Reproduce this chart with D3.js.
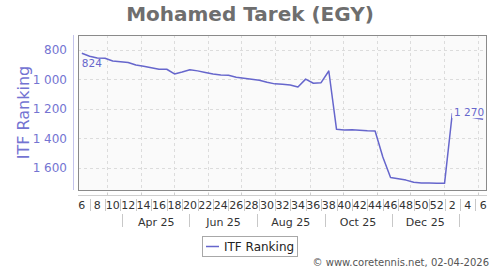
<!DOCTYPE html>
<html>
<head>
<meta charset="utf-8">
<script src="https://cdn.jsdelivr.net/npm/d3@7"></script>
<style>
  html, body { margin: 0; padding: 0; background: #fff; }
  svg { display: block; font-family: "DejaVu Sans", sans-serif; }
</style>
</head>
<body>
<svg id="chart" width="500" height="270"></svg>
<script>
// ---- Data ----
const title = "Mohamed Tarek (EGY)";
const seriesName = "ITF Ranking";
const firstWeekStart = "2025-02-03"; // ISO week 6, 2025
const firstWeekNumber = 6;
const weeksInFirstYear = 52;
// one ranking per week, week 6 2025 .. week 6 2026
const ranking = [
  824, 844, 856, 858, 876, 881, 886, 903, 911, 922,
  932, 932, 964, 951, 936, 943, 954, 964, 971, 973,
  986, 993, 1000, 1006, 1020, 1031, 1034, 1039, 1052, 999,
  1027, 1023, 944, 1339, 1343, 1342, 1345, 1349, 1350, 1526,
  1665, 1674, 1683, 1698, 1703, 1703, 1704, 1705, 1232, 1238,
  1250, 1262, 1270
];
const yTicks = [800, 1000, 1200, 1400, 1600];
const monthLabels = ["Apr 25", "Jun 25", "Aug 25", "Oct 25", "Dec 25"];
const monthLabelDates = ["2025-04-15", "2025-06-15", "2025-08-15", "2025-10-15", "2025-12-15"];
const monthSeparatorDates = ["2025-03-15", "2025-05-15", "2025-07-15", "2025-09-15", "2025-11-15", "2026-01-15"];
const credit = "\u00A9 www.coretennis.net, 02-04-2026";

// ---- Layout ----
const W = 500, H = 270;
const plot = { left: 78, top: 35, right: 487, bottom: 190 };
const lineColor = "#6666cc";
const tickColor = "#7474d2";
const plotBg = "#fafafa";

const svg = d3.select("#chart");
const parse = d3.utcParse("%Y-%m-%d");
const DAY = 86400000;
const start = parse(firstWeekStart);
const data = ranking.map((v, i) => ({
  i, v,
  date: new Date(start.getTime() + (7 * i + 3.5) * DAY),
  week: ((firstWeekNumber + i - 1) % weeksInFirstYear) + 1
}));
const domainEnd = new Date(start.getTime() + 7 * ranking.length * DAY);

const x = d3.scaleUtc().domain([start, domainEnd]).range([plot.left, plot.right]);
const y = d3.scaleLinear().domain([700, 1750]).range([plot.top, plot.bottom]);

const loc = d3.formatLocale({ decimal: ".", thousands: "\u2009", grouping: [3], currency: ["", ""] });
const fmt = loc.format(",d");
const fmtLabel = v => fmt(v).replace("\u2009", " ");

// title
svg.append("text").attr("x", 250).attr("y", 21).attr("text-anchor", "middle")
  .attr("font-size", 20).attr("font-weight", "bold").attr("fill", "#6e6e6e").text(title);

// plot background
svg.append("rect").attr("x", plot.left).attr("y", plot.top)
  .attr("width", plot.right - plot.left).attr("height", plot.bottom - plot.top)
  .attr("fill", plotBg);

// grid
const monthStarts = d3.utcMonth.range(start, domainEnd);
svg.append("g").selectAll("line").data(monthStarts).join("line")
  .attr("x1", d => Math.round(x(d)) + 0.5).attr("x2", d => Math.round(x(d)) + 0.5)
  .attr("y1", plot.top).attr("y2", plot.bottom)
  .attr("stroke", "#dcdcdc").attr("stroke-dasharray", "3,3");
svg.append("g").selectAll("line").data(yTicks).join("line")
  .attr("x1", plot.left).attr("x2", plot.right)
  .attr("y1", d => Math.round(y(d)) + 0.5).attr("y2", d => Math.round(y(d)) + 0.5)
  .attr("stroke", "#dcdcdc").attr("stroke-dasharray", "3,3");

// y axis
const yAxis = d3.axisLeft(y).tickValues(yTicks).tickSize(0).tickPadding(6).tickFormat(fmtLabel);
const gy = svg.append("g").attr("transform", `translate(${plot.left - 5},0)`).call(yAxis);
gy.select(".domain").attr("stroke", "#c4c4ec").attr("d", `M0.5,${plot.top}V${plot.bottom}`);
gy.selectAll("text").attr("fill", tickColor).attr("font-size", 12).attr("font-family", "DejaVu Sans");

svg.append("text").attr("transform", `translate(29,${(plot.top + plot.bottom) / 2}) rotate(-90)`)
  .attr("text-anchor", "middle").attr("font-size", 16).attr("fill", tickColor).text(seriesName);

// line
const line = d3.line().x(d => x(d.date)).y(d => y(d.v));
svg.append("path").datum(data).attr("d", line).attr("fill", "none")
  .attr("stroke", lineColor).attr("stroke-width", 1.5).attr("stroke-linejoin", "round");

// value labels
const first = data[0], last = data[data.length - 1];
svg.append("text").attr("x", x(first.date)).attr("y", y(first.v) + 14)
  .attr("font-size", 10.5).attr("fill", lineColor).text(fmtLabel(first.v));
const lastLbl = svg.append("g");
const lt = lastLbl.append("text").attr("x", x(last.date) + 1).attr("y", y(last.v) - 3)
  .attr("text-anchor", "end").attr("font-size", 10.5).attr("fill", lineColor).text(fmtLabel(last.v));
const bb = lt.node().getBBox();
lastLbl.insert("rect", "text").attr("x", bb.x - 2).attr("y", bb.y).attr("width", bb.width + 2)
  .attr("height", bb.height).attr("fill", plotBg);

// plot border
svg.append("rect").attr("x", plot.left + 0.5).attr("y", plot.top + 0.5)
  .attr("width", plot.right - plot.left - 1).attr("height", plot.bottom - plot.top)
  .attr("fill", "none").attr("stroke", "#8a8a8a");

// x axis
const axisY = 195.5;
svg.append("line").attr("x1", plot.left).attr("x2", plot.right).attr("y1", axisY).attr("y2", axisY)
  .attr("stroke", "#cfcfcf");
svg.append("g").selectAll("line").data(monthStarts).join("line")
  .attr("x1", d => Math.round(x(d)) + 0.5).attr("x2", d => Math.round(x(d)) + 0.5)
  .attr("y1", axisY - 3).attr("y2", axisY)
  .attr("stroke", "#cfcfcf");

// week labels and separators
svg.append("g").selectAll("text").data(data.filter(d => d.i % 2 === 0)).join("text")
  .attr("x", d => x(d.date)).attr("y", 209).attr("text-anchor", "middle")
  .attr("font-size", 11).attr("fill", "#333").text(d => d.week);
svg.append("g").selectAll("line").data(data.filter(d => d.i % 2 === 1)).join("line")
  .attr("x1", d => Math.round(x(d.date)) + 0.5).attr("x2", d => Math.round(x(d.date)) + 0.5)
  .attr("y1", 199).attr("y2", 211).attr("stroke", "#c8c8c8");

// month labels and separators
svg.append("g").selectAll("text").data(monthLabels).join("text")
  .attr("x", (d, k) => x(parse(monthLabelDates[k]))).attr("y", 226).attr("text-anchor", "middle")
  .attr("font-size", 11).attr("fill", "#333").text(d => d);
svg.append("g").selectAll("line").data(monthSeparatorDates).join("line")
  .attr("x1", d => Math.round(x(parse(d))) + 0.5).attr("x2", d => Math.round(x(parse(d))) + 0.5)
  .attr("y1", 214).attr("y2", 227).attr("stroke", "#c8c8c8");

// legend
svg.append("rect").attr("x", 202.5).attr("y", 236.5).attr("width", 95).attr("height", 20)
  .attr("fill", "#fff").attr("stroke", "#a8a8a8");
svg.append("line").attr("x1", 206).attr("x2", 219).attr("y1", 246.5).attr("y2", 246.5)
  .attr("stroke", lineColor).attr("stroke-width", 1.5);
svg.append("text").attr("x", 224).attr("y", 251).attr("font-size", 12).attr("fill", "#222").text(seriesName);

// credit
svg.append("text").attr("x", 489).attr("y", 266).attr("text-anchor", "end")
  .attr("font-size", 10).attr("fill", "#555").text(credit);
</script>
</body>
</html>
